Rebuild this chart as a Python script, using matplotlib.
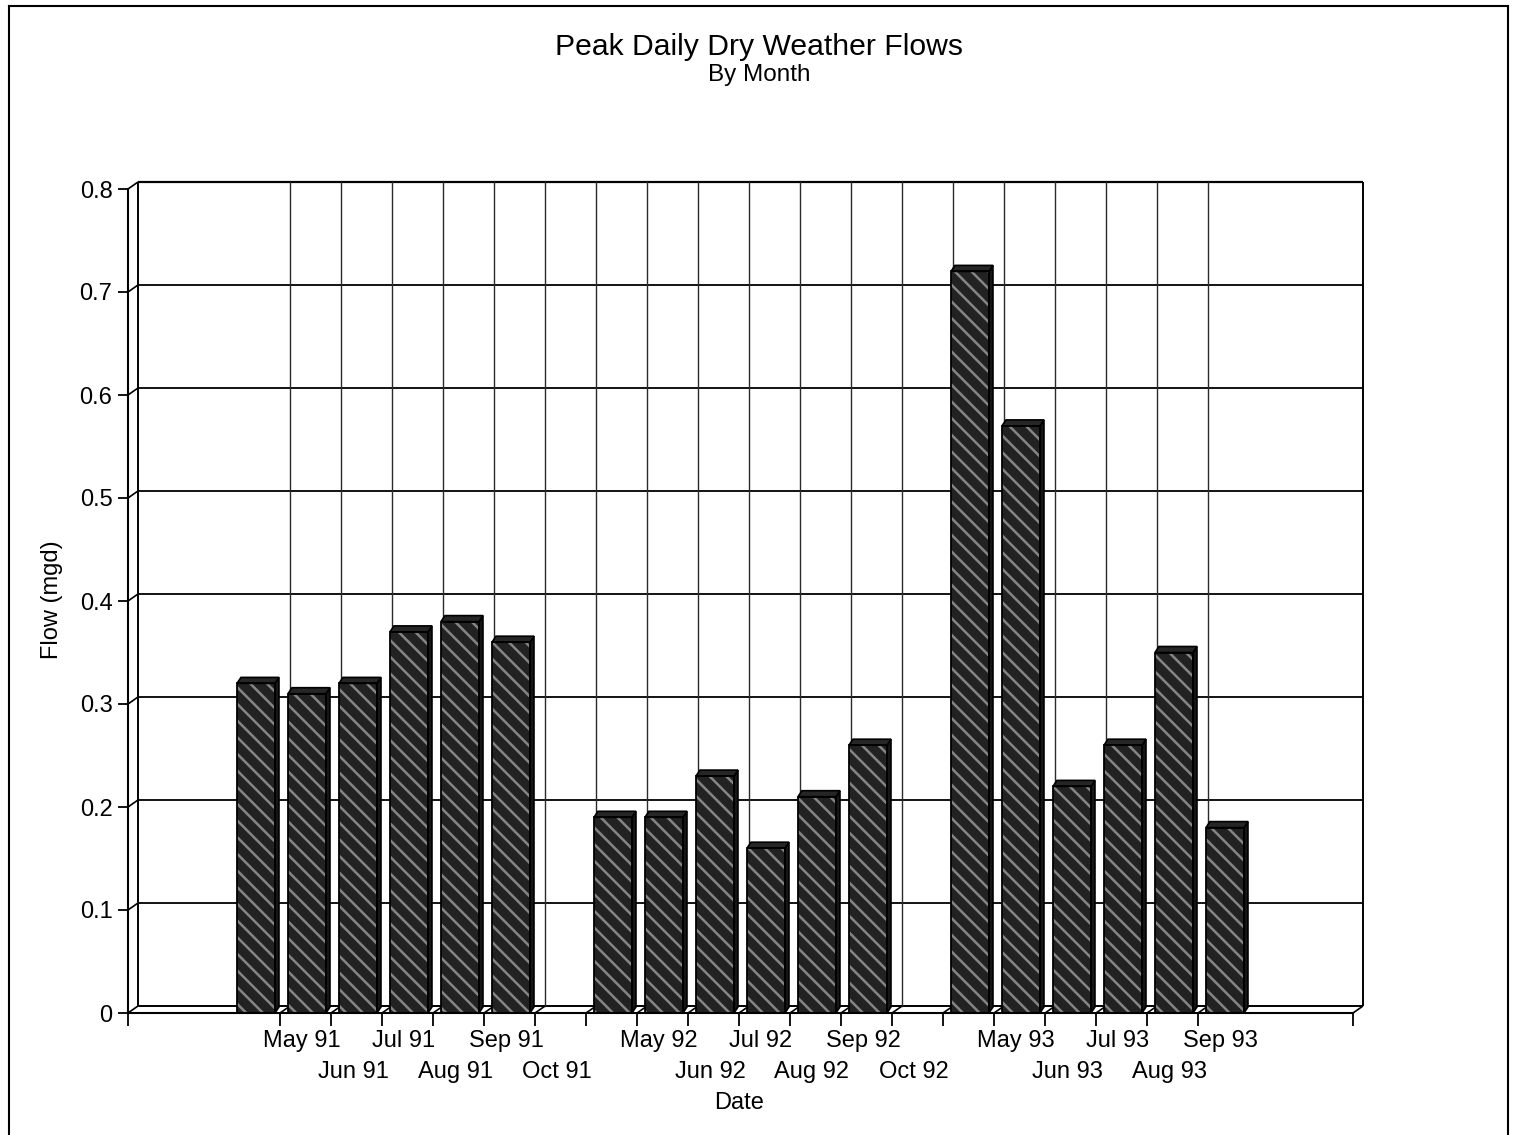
import numpy as np
import matplotlib.pyplot as plt
from matplotlib.patches import Polygon
from matplotlib.lines import Line2D

plt.rcParams['font.family'] = ['Liberation Sans', 'DejaVu Sans']
plt.rcParams['hatch.linewidth'] = 1.8

# peak daily dry weather flow for each month (mgd)
flow_91 = [0.32, 0.31, 0.32, 0.37, 0.38, 0.36]
flow_92 = [0.19, 0.19, 0.23, 0.16, 0.21, 0.26]
flow_93 = [0.72, 0.57, 0.22, 0.26, 0.35, 0.18]

labels_91 = ['May 91', 'Jun 91', 'Jul 91', 'Aug 91', 'Sep 91', 'Oct 91']
labels_92 = ['May 92', 'Jun 92', 'Jul 92', 'Aug 92', 'Sep 92', 'Oct 92']
labels_93 = ['May 93', 'Jun 93', 'Jul 93', 'Aug 93', 'Sep 93']

y_ticks = [0, 0.1, 0.2, 0.3, 0.4, 0.5, 0.6, 0.7, 0.8]
y_tick_labels = ['0', '0.1', '0.2', '0.3', '0.4', '0.5', '0.6', '0.7', '0.8']

# each season starts on its own slot, one empty slot between seasons
group_start = [0, 7, 14]
flows = [flow_91, flow_92, flow_93]
labels = [labels_91, labels_92, labels_93]

W, H = 1515, 1135
fig = plt.figure(figsize=(W / 100, H / 100), dpi=100)

# slot units: one month = 51 px, label of slot 0 centred at x=302 px
ax = fig.add_axes([128 / W, 1 - 1013 / H, (1363 - 128) / W, (1013 - 183) / H])
x0, x1 = (128 - 302) / 51, (1363 - 302) / 51
ax.set_xlim(x0, x1)
ax.set_ylim(0, 830 / 1030)

DX, DY = 10 / 51, 7 / 1030      # depth of the back wall
BDX, BDY = 4 / 51, 6 / 1030     # depth of a bar
TICK_SHIFT = 0.43
BAR_SHIFT = 1.275
BAR_W = 0.745

line_kw = dict(color='black', clip_on=False, solid_capstyle='butt')

# back wall frame
ax.plot([x0 + DX, x0 + DX], [DY, 0.8 + DY], lw=1.4, zorder=1, **line_kw)
ax.plot([x1, x1], [DY, 0.8 + DY], lw=1.4, zorder=1, **line_kw)
ax.plot([x0 + DX, x1], [0.8 + DY, 0.8 + DY], lw=1.6, zorder=1, **line_kw)
ax.plot([x0 + DX, x1], [DY, DY], lw=1.4, zorder=1, **line_kw)

# horizontal gridlines on the back wall, joined to the front axis
for v in y_ticks[1:-1]:
    ax.plot([x0 + DX, x1], [v + DY, v + DY], lw=1.3, zorder=1, **line_kw)
for v in y_ticks:
    ax.plot([x0, x0 + DX], [v, v + DY], lw=1.2, zorder=1, **line_kw)

# month boundaries
tick_pos = [s - TICK_SHIFT for s in range(19)]
for t in tick_pos:
    ax.plot([t + DX, t + DX], [DY, 0.8 + DY], lw=1.0, color='#2a2a2a',
            zorder=1, clip_on=False)
    ax.plot([t, t + DX], [0, DY], lw=1.2, zorder=1, **line_kw)
# right edge of the floor
ax.plot([x1 - DX, x1], [0, DY], lw=1.2, zorder=1, **line_kw)

# bars
bar_x, bar_v = [], []
for start, vals in zip(group_start, flows):
    for i, v in enumerate(vals):
        bar_x.append(start + i - BAR_SHIFT)
        bar_v.append(v)

ax.bar(bar_x, bar_v, width=BAR_W, align='edge', color='#222222',
       edgecolor='#858585', hatch='\\\\', linewidth=0, zorder=3)
ax.bar(bar_x, bar_v, width=BAR_W, align='edge', fill=False,
       edgecolor='black', linewidth=1.3, zorder=4)
for bx, v in zip(bar_x, bar_v):
    side = Polygon([(bx + BAR_W, 0), (bx + BAR_W + BDX, BDY),
                    (bx + BAR_W + BDX, v + BDY), (bx + BAR_W, v)],
                   closed=True, facecolor='#161616', edgecolor='black',
                   lw=1.2, zorder=3)
    top = Polygon([(bx, v), (bx + BDX, v + BDY), (bx + BAR_W + BDX, v + BDY),
                   (bx + BAR_W, v)],
                  closed=True, facecolor='#262626', edgecolor='black',
                  lw=1.2, zorder=3)
    ax.add_patch(side)
    ax.add_patch(top)

# front axes
for side in ['top', 'right']:
    ax.spines[side].set_visible(False)
ax.spines['left'].set_bounds(0, 0.8)
ax.spines['bottom'].set_bounds(x0, x1 - DX)
for side in ['left', 'bottom']:
    ax.spines[side].set_linewidth(1.5)
    ax.spines[side].set_zorder(5)

ax.set_yticks(y_ticks)
ax.set_yticklabels(y_tick_labels, fontsize=17)
ax.tick_params(axis='y', direction='out', length=7.2, width=1.3, pad=4)
ax.set_xticks([x0] + tick_pos + [x1 - DX])
ax.set_xticklabels([])
ax.tick_params(axis='x', direction='out', length=9.4, width=1.3)
ax.patch.set_visible(False)

# month labels in two staggered rows
for start, labs in zip(group_start, labels):
    for i, lab in enumerate(labs):
        ax.annotate(lab, xy=(start + i, 0), xytext=(0, -20.2 if i % 2 == 0 else -42.5),
                    textcoords='offset points', ha='center', va='center',
                    fontsize=17, annotation_clip=False)

fig.text(739 / W, 1 - 1103 / H, 'Date', ha='center', va='center', fontsize=17)
fig.text(52 / W, 1 - 600 / H, 'Flow (mgd)', rotation=90, ha='center',
         va='center', fontsize=17)

fig.text(759 / W, 1 - 47 / H, 'Peak Daily Dry Weather Flows', ha='center',
         va='center', fontsize=21.7)
fig.text(759 / W, 1 - 75 / H, 'By Month', ha='center', va='center', fontsize=17.5)

# page border
for xs, ys in [([9, 9], [6, H]), ([9, 1508], [6, 6]), ([1508, 1508], [6, H])]:
    fig.add_artist(Line2D([x / W for x in xs], [1 - y / H for y in ys],
                          color='black', lw=1.5))

fig.savefig('out.png', dpi=100)
